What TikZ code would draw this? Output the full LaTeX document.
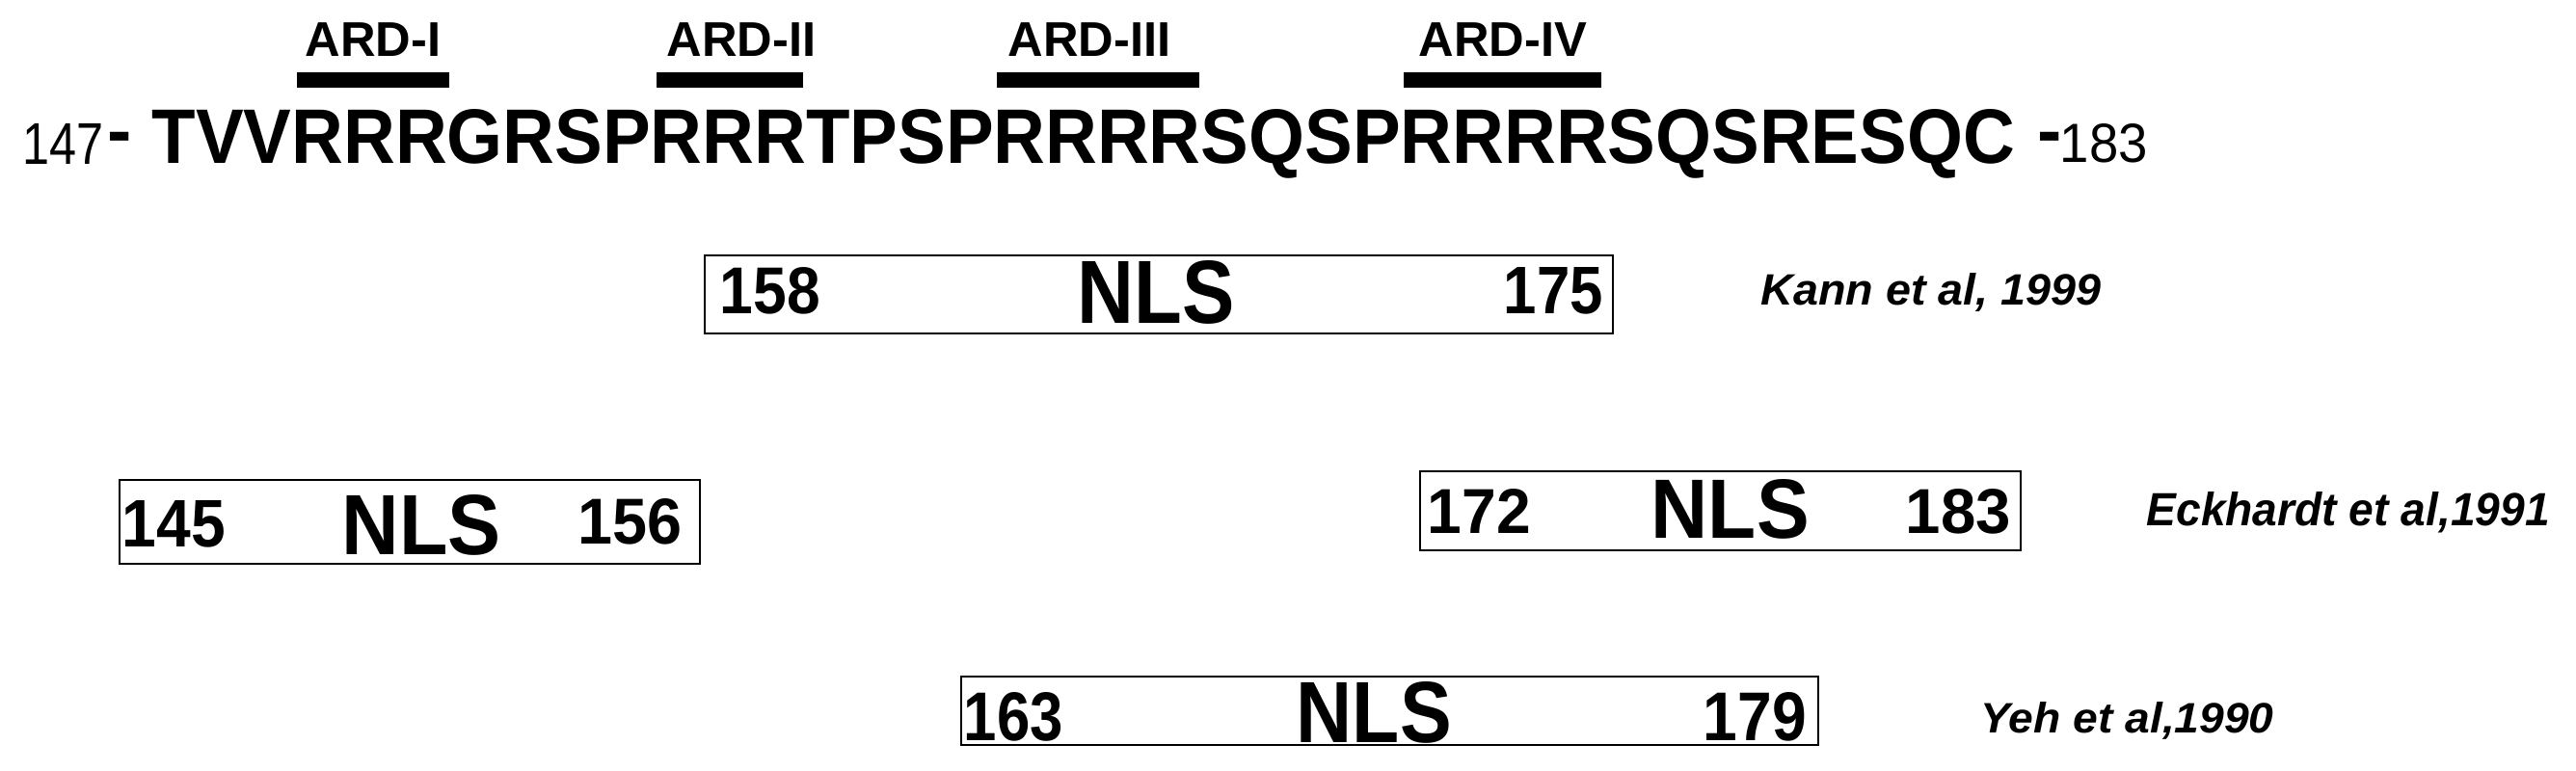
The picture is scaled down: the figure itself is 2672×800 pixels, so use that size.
\documentclass[tikz,border=0pt]{standalone}
\usepackage{fontspec}
\setmainfont{Liberation Sans}
\newlength\pxu
\setlength\pxu{0.01cm}
\begin{document}
\begin{tikzpicture}[x=0.01cm,y=-0.01cm,
  txt/.style={inner sep=0pt, anchor=base west},
  ardlab/.style={inner sep=0pt, anchor=base, font=\fontsize{14.4}{17}\selectfont\bfseries},
  ardbar/.style={fill=black, draw=none, inner sep=0pt, minimum height=16\pxu},
  nlsbox/.style={draw=black, line width=0.75pt, inner sep=0pt, fill=white},
  hyph/.style={inner sep=0pt, anchor=base, font=\fontsize{21.6}{26}\selectfont\bfseries}
]
\useasboundingbox (0,0) rectangle (2672,800);

% ARD labels and bars
\node[ardlab] (ard1) at (387,58) {ARD-I};
\node[ardlab] (ard2) at (769,58) {ARD-II};
\node[ardlab] (ard3) at (1130,58) {ARD-III};
\node[ardlab] (ard4) at (1559,58) {ARD-IV};
\node[ardbar, minimum width=158\pxu] (bar1) at (387,83) {};
\node[ardbar, minimum width=152\pxu] (bar2) at (757,83) {};
\node[ardbar, minimum width=210\pxu] (bar3) at (1139,83) {};
\node[ardbar, minimum width=205\pxu] (bar4) at (1558.5,83) {};

% sequence
\node[txt] (n147) at (23,170) {\resizebox{84\pxu}{42\pxu}{147}};
\node[hyph] (h1) at (124.5,161) {-};
\node[txt] (seq) at (157,169) {\resizebox{1932\pxu}{56\pxu}{\bfseries TVVRRRGRSPRRRTPSPRRRRSQSPRRRRSQSRESQC}};
\node[hyph] (h2) at (2126,161) {-};
\node[txt] (n183) at (2136,168) {\resizebox{91\pxu}{40\pxu}{183}};

% boxes
\node[nlsbox, minimum width=942\pxu, minimum height=81\pxu] (box1) at (1202,305.5) {};
\node[nlsbox, minimum width=602\pxu, minimum height=87\pxu] (box2) at (425,541.5) {};
\node[nlsbox, minimum width=623\pxu, minimum height=82\pxu] (box3) at (1784.5,530) {};
\node[nlsbox, minimum width=889\pxu, minimum height=71\pxu] (box4) at (1441.5,737.5) {};

% box 1
\node[txt] (b1a) at (746,325) {\resizebox{104\pxu}{48\pxu}{\bfseries 158}};
\node[txt] (b1n) at (1117,335) {\resizebox{163\pxu}{65\pxu}{\bfseries NLS}};
\node[txt] (b1b) at (1559,325) {\resizebox{103\pxu}{48\pxu}{\bfseries 175}};
% box 2
\node[txt] (b2a) at (126,567) {\resizebox{107\pxu}{48\pxu}{\bfseries 145}};
\node[txt] (b2n) at (354,575) {\resizebox{165\pxu}{62\pxu}{\bfseries NLS}};
\node[txt] (b2b) at (599,564) {\resizebox{108\pxu}{47\pxu}{\bfseries 156}};
% box 3
\node[txt] (b3a) at (1480,553) {\resizebox{107\pxu}{46\pxu}{\bfseries 172}};
\node[txt] (b3n) at (1712,558) {\resizebox{164\pxu}{61\pxu}{\bfseries NLS}};
\node[txt] (b3b) at (1976,553) {\resizebox{109\pxu}{46\pxu}{\bfseries 183}};
% box 4
\node[txt] (b4a) at (999,768) {\resizebox{103\pxu}{50\pxu}{\bfseries 163}};
\node[txt] (b4n) at (1344,770) {\resizebox{161\pxu}{63\pxu}{\bfseries NLS}};
\node[txt] (b4b) at (1766,768) {\resizebox{107\pxu}{50\pxu}{\bfseries 179}};

% citations
\node[txt] (c1) at (1826,316) {\resizebox{353\pxu}{33\pxu}{\bfseries\itshape Kann et al, 1999}};
\node[txt] (c2) at (2226,545) {\resizebox{418\pxu}{35\pxu}{\bfseries\itshape Eckhardt et al,1991}};
\node[txt] (c3) at (2054,760) {\resizebox{304\pxu}{32\pxu}{\bfseries\itshape Yeh et al,1990}};
\end{tikzpicture}
\end{document}
